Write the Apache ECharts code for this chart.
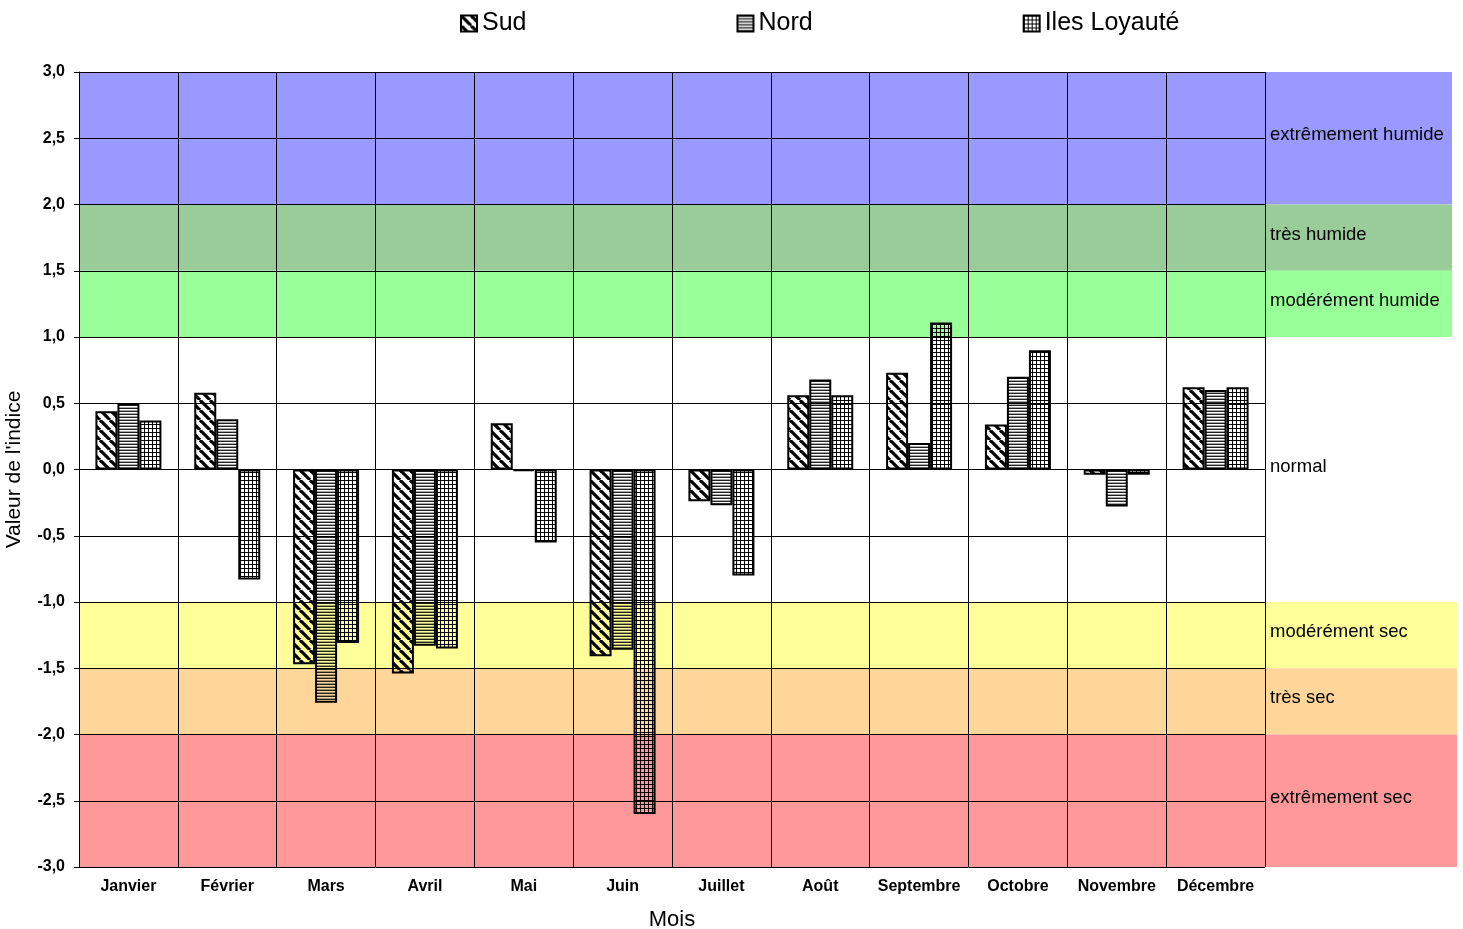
<!DOCTYPE html>
<html><head><meta charset="utf-8">
<script src="https://cdn.jsdelivr.net/npm/echarts@6/dist/echarts.min.js"></script>
<style>html,body{margin:0;padding:0;background:#fff}#c{width:1463px;height:929px}</style>
</head><body><div id="c"></div>
<script>
const months = ['Janvier','Février','Mars','Avril','Mai','Juin','Juillet','Août','Septembre','Octobre','Novembre','Décembre'];
const sud  = [0.44, 0.58, -1.47, -1.54, 0.35, -1.41, -0.24, 0.56, 0.73, 0.34, -0.04, 0.62];
const nord = [0.50, 0.38, -1.76, -1.33, -0.01, -1.36, -0.27, 0.68, 0.20, 0.70, -0.28, 0.60];
const iles = [0.37, -0.83, -1.31, -1.35, -0.55, -2.60, -0.80, 0.56, 1.11, 0.90, -0.04, 0.62];
const seriesNames = ['Sud','Nord','Iles Loyauté'];
const bandLow  = [2, 1.5, 1, -1, -1.5, -2, -3];
const bandHigh = [3, 2, 1.5, 1, -1, -1.5, -2];
const bandNames = ['extrêmement humide','très humide','modérément humide','normal','modérément sec','très sec','extrêmement sec'];
const bandColors = ['#9999FF','#99CC99','#99FF99',null,'#FFFF99','#FFD699','#FF9999'];

function pattern(kind){
  const c = document.createElement('canvas');
  const ctx = c.getContext('2d');
  if (kind === 'diag'){
    const s = 10; c.width = s; c.height = s;
    ctx.strokeStyle = '#000'; ctx.lineWidth = 3.2;
    for (const o of [-s, 0, s]) { ctx.beginPath(); ctx.moveTo(o, 0); ctx.lineTo(o + s, s); ctx.stroke(); }
  } else if (kind === 'horiz'){
    c.width = 4; c.height = 3;
    ctx.fillStyle = '#222'; ctx.fillRect(0,0,4,1);
    ctx.fillStyle = 'rgba(0,0,0,0.35)'; ctx.fillRect(0,2,4,1);
  } else {
    c.width = 4; c.height = 4;
    ctx.fillStyle = '#000'; ctx.fillRect(0,0,4,1); ctx.fillRect(0,0,1,4);
  }
  return {image: c, repeat: 'repeat'};
}
const patterns = [pattern('diag'), pattern('horiz'), pattern('grid')];
const values = [sud, nord, iles];
const FONT = '"Liberation Sans", Arial, sans-serif';

const chart = echarts.init(document.getElementById('c'), null, {renderer: 'canvas'});
const barSeries = seriesNames.map((n, k) => ({
  name: n, type: 'bar', data: values[k], barWidth: 22, barGap: '0%', z: 2,
  itemStyle: {color: patterns[k], borderColor: '#000', borderWidth: 2}
}));
const bandSeries = {
  type: 'custom', z: -1, clip: false, silent: true, legendHoverLink: false,
  encode: {x: 0, y: [1, 2]},
  data: bandLow.map((l, i) => [0, l, bandHigh[i]]),
  renderItem: function(params, api){
    const i = params.dataIndex;
    const cs = params.coordSys;
    const lo = api.value(1), hi = api.value(2);
    const yTop = api.coord([0, hi])[1];
    const yBot = api.coord([0, lo])[1];
    const right = cs.x + cs.width + (lo < 0 ? 192 : 187);
    const children = [];
    if (bandColors[i]) {
      children.push({type: 'rect', shape: {x: cs.x, y: yTop, width: right - cs.x, height: yBot - yTop},
        style: {fill: bandColors[i]}});
    }
    const mid = api.coord([0, (lo + hi) / 2])[1] - 3;
    children.push({type: 'text', z2: 100, style: {text: bandNames[i], x: cs.x + cs.width + 5, y: mid,
      fill: '#000', font: '18.5px ' + FONT, verticalAlign: 'middle', align: 'left'}});
    return {type: 'group', children: children};
  }
};

chart.setOption({
  animation: false,
  backgroundColor: '#fff',
  grid: {left: 79, right: 198, top: 72, bottom: 62, outerBoundsMode: 'none', containLabel: false},
  legend: {
    data: seriesNames, left: 455, top: 6, itemGap: 210, itemWidth: 16, itemHeight: 16,
    icon: 'rect', textStyle: {fontFamily: FONT, fontSize: 25, color: '#000'}
  },
  xAxis: {
    type: 'category', data: months,
    name: 'Mois', nameLocation: 'middle', nameGap: 42,
    nameTextStyle: {fontFamily: FONT, fontSize: 22, color: '#000'},
    axisLine: {show: true, lineStyle: {color: '#000', width: 1}},
    axisTick: {show: false},
    axisLabel: {interval: 0, fontFamily: FONT, fontSize: 16, fontWeight: 'bold', color: '#000', margin: 12},
    splitLine: {show: true, interval: 0, lineStyle: {color: '#000', width: 1}}
  },
  yAxis: {
    type: 'value', min: -3, max: 3, interval: 0.5,
    name: "Valeur de l'indice", nameLocation: 'middle', nameGap: 54,
    nameTextStyle: {fontFamily: FONT, fontSize: 21, color: '#000'},
    axisLine: {show: true, lineStyle: {color: '#000', width: 1}},
    axisTick: {show: true, length: 5, lineStyle: {color: '#000'}},
    axisLabel: {fontFamily: FONT, fontSize: 16, fontWeight: 'bold', color: '#000', margin: 14,
      formatter: v => v.toFixed(1).replace('.', ',')},
    splitLine: {show: true, lineStyle: {color: '#000', width: 1}}
  },
  series: barSeries.concat([bandSeries])
});
</script>
</body></html>
